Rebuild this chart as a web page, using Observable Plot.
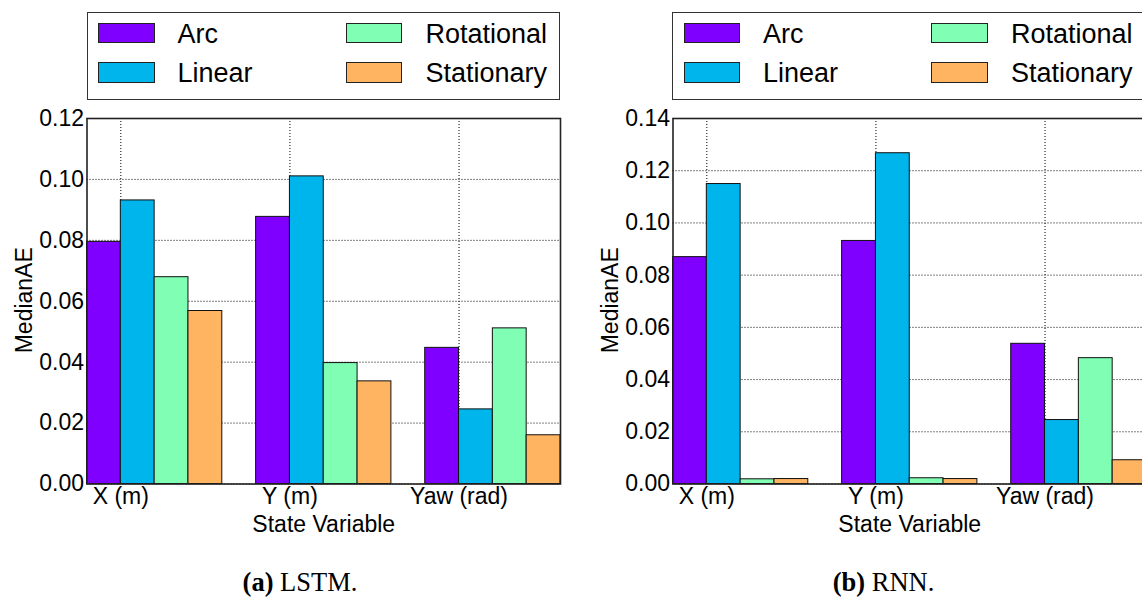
<!DOCTYPE html>
<html>
<head>
<meta charset="utf-8">
<script src="https://cdn.jsdelivr.net/npm/d3@7"></script>
<script src="https://cdn.jsdelivr.net/npm/@observablehq/plot@0.6"></script>
<style>
  html, body { margin: 0; padding: 0; background: #fff; }
  body { width: 1142px; height: 598px; overflow: hidden; position: relative; font-family: "Liberation Sans", Arial, sans-serif; }
  .panel { position: absolute; top: 100px; width: 571px; height: 450px; }
  .panel svg { max-width: none !important; width: 571px; height: 450px; display: block; }
  .legend { position: absolute; top: 12px; width: 473.5px; height: 87.5px; border: 1px solid #333; box-sizing: border-box; background: #fff; }
  .sw { position: absolute; width: 56.5px; height: 20.6px; border: 1px solid #222; box-sizing: border-box; }
  .lt { position: absolute; font-size: 27px; line-height: 27px; white-space: nowrap; color: #000; }
  .cap { position: absolute; top: 569px; width: 600px; text-align: center; font-family: "Liberation Serif", "Times New Roman", serif; font-size: 26.5px; line-height: 26px; }
</style>
</head>
<body>
<script>
// ---- data ----
const categories = ["X (m)", "Y (m)", "Yaw (rad)"];
const series = ["Arc", "Linear", "Rotational", "Stationary"];
const colors = ["#8000ff", "#00b4ec", "#80ffb4", "#ffb462"];

// LSTM panel (a)
const lstmArc        = [0.0795, 0.0877, 0.0447];
const lstmLinear     = [0.0931, 0.1010, 0.0245];
const lstmRotational = [0.0679, 0.0397, 0.0511];
const lstmStationary = [0.0568, 0.0337, 0.0160];

// RNN panel (b)
const rnnArc        = [0.0869, 0.0931, 0.0537];
const rnnLinear     = [0.1149, 0.1267, 0.0245];
const rnnRotational = [0.0018, 0.0022, 0.0482];
const rnnStationary = [0.0019, 0.0019, 0.0091];

const lstmTicks = [0.00, 0.02, 0.04, 0.06, 0.08, 0.10, 0.12];
const rnnTicks  = [0.00, 0.02, 0.04, 0.06, 0.08, 0.10, 0.12, 0.14];

const xLabel = "State Variable";
const yLabel = "MedianAE";

const barW = 0.2;

function panelPlot(vals, yTicks) {
  const rows = [];
  categories.forEach((c, g) => series.forEach((s, i) => rows.push({cat: c, g, i, series: s, value: vals[i][g]})));
  const yMax = yTicks[yTicks.length - 1];
  const tickPos = categories.map((c, g) => g + barW);
  const labelAt = new Map(tickPos.map((p, g) => [p, categories[g]]));
  return Plot.plot({
    width: 571,
    height: 450,
    marginLeft: 86.5,
    marginRight: 11,
    marginTop: 18,
    marginBottom: 66.5,
    style: {fontFamily: "'Liberation Sans', Arial, sans-serif", fontSize: "23px", background: "transparent", overflow: "visible", color: "#000"},
    x: {domain: [0, (categories.length - 1) + series.length * barW]},
    y: {domain: [0, yMax]},
    color: {domain: series, range: colors},
    marks: [
      Plot.gridY(yTicks, {stroke: "#000", strokeOpacity: 1, strokeWidth: 1, strokeDasharray: "1,2"}),
      Plot.gridX(tickPos, {stroke: "#000", strokeOpacity: 1, strokeWidth: 1, strokeDasharray: "1,2"}),
      Plot.rect(rows, {
        x1: d => d.g + d.i * barW,
        x2: d => d.g + (d.i + 1) * barW,
        y1: 0,
        y2: "value",
        fill: "series",
        stroke: "#111",
        strokeWidth: 1
      }),
      Plot.frame({stroke: "#222", strokeWidth: 1.6}),
      Plot.axisY(yTicks, {tickFormat: d3.format(".2f"), tickSize: 0, tickPadding: 3, fontSize: 23, label: null}),
      Plot.axisX(tickPos, {tickFormat: d => labelAt.get(d), tickSize: 0, tickPadding: 4, fontSize: 23, label: null}),
      Plot.text([xLabel], {frameAnchor: "bottom", dy: 47.5, lineAnchor: "bottom", textAnchor: "middle", fontSize: 23, fill: "#000"}),
      Plot.text([yLabel], {frameAnchor: "left", rotate: -90, dx: -55, dy: -1, lineAnchor: "bottom", textAnchor: "middle", fontSize: 23, fill: "#000"})
    ]
  });
}

function legendBox(left) {
  const box = document.createElement("div");
  box.className = "legend";
  box.style.left = left + "px";
  // two columns, two rows: column-major order like matplotlib (Arc, Linear | Rotational, Stationary)
  const colSw = [10.5, 258];
  const colTx = [90, 338];
  const rowSw = [9.7, 49];
  const rowTx = [7.6, 46.6];
  series.forEach((s, k) => {
    const col = Math.floor(k / 2), row = k % 2;
    const sw = document.createElement("div");
    sw.className = "sw";
    sw.style.left = colSw[col] + "px";
    sw.style.top = rowSw[row] + "px";
    sw.style.background = colors[k];
    box.appendChild(sw);
    const t = document.createElement("div");
    t.className = "lt";
    t.style.left = colTx[col] + "px";
    t.style.top = rowTx[row] + "px";
    t.textContent = s;
    box.appendChild(t);
  });
  document.body.appendChild(box);
}

function addPanel(offset, vals, ticks, capLetter, capText, capLeft) {
  const div = document.createElement("div");
  div.className = "panel";
  div.style.left = offset + "px";
  div.appendChild(panelPlot(vals, ticks));
  document.body.appendChild(div);
  legendBox(offset + 86.5);
  const cap = document.createElement("div");
  cap.className = "cap";
  cap.style.left = capLeft + "px";
  const b = document.createElement("b");
  b.textContent = capLetter;
  cap.appendChild(b);
  cap.appendChild(document.createTextNode(" " + capText));
  document.body.appendChild(cap);
}

addPanel(0, [lstmArc, lstmLinear, lstmRotational, lstmStationary], lstmTicks, "(a)", "LSTM.", 0);
addPanel(585.5, [rnnArc, rnnLinear, rnnRotational, rnnStationary], rnnTicks, "(b)", "RNN.", 583.5);
</script>
</body>
</html>
